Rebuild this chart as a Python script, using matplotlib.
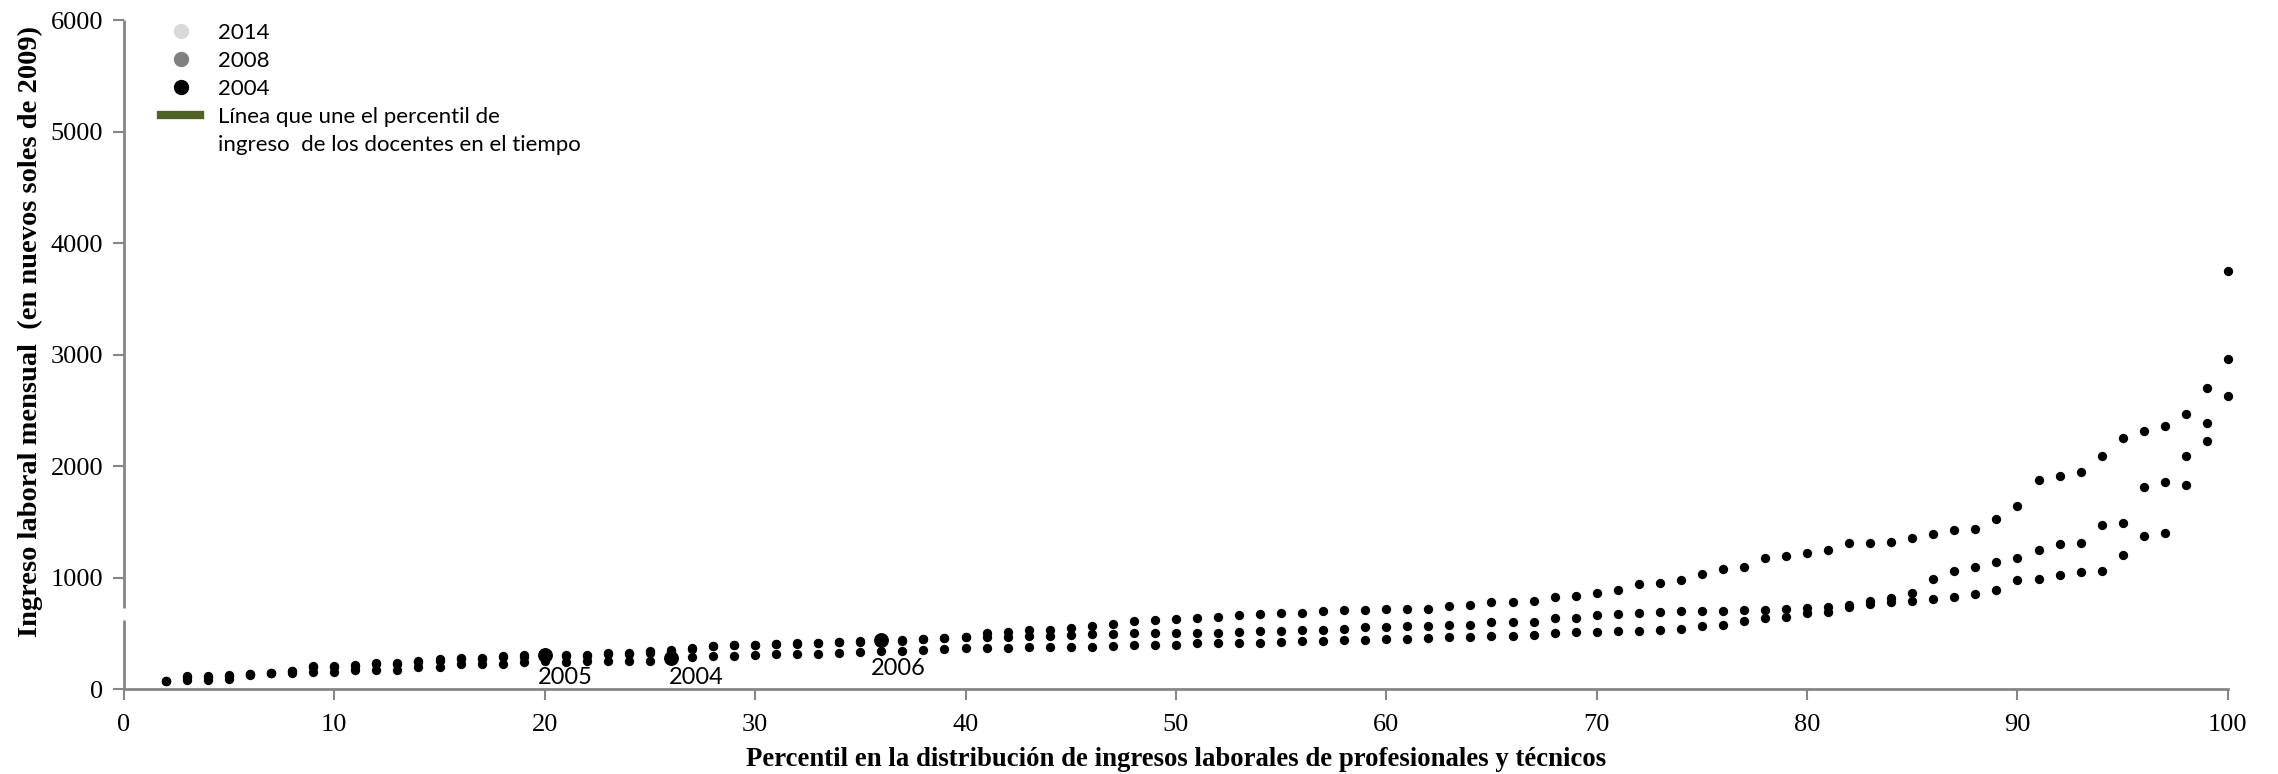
import matplotlib
matplotlib.use("Agg")
import matplotlib.pyplot as plt
from matplotlib.lines import Line2D

percentiles = list(range(2, 101))

ingreso_alto = [72, 115, 120, 126, 132, 146, 165, 209, 206, 215, 230, 230, 250, 270,
                281, 281, 300, 302, 300, 305, 305, 320, 325, 340, 350, 365, 389, 395,
                395, 403, 410, 415, 421, 427, 440, 436, 448, 460, 469, 499, 514, 532,
                529, 544, 565, 586, 610, 616, 628, 640, 643, 661, 673, 679, 685, 697,
                706, 709, 715, 715, 721, 742, 751, 784, 783, 792, 822, 830, 864, 891,
                942, 954, 978, 1034, 1073, 1094, 1178, 1196, 1220, 1247, 1307, 1313,
                1319, 1354, 1393, 1429, 1432, 1522, 1642, 1878, 1908, 1949, 2090, 2249,
                2311, 2359, 2464, 2700, 3750]

ingreso_medio = [72, 110, 112, 118, 132, 146, 160, 200, 200, 205, 220, 222, 240, 255,
                 270, 272, 285, 290, 290, 295, 298, 310, 315, 325, 340, 360, 385, 392,
                 393, 400, 406, 412, 418, 424, 432, 434, 445, 456, 466, 469, 469, 475,
                 475, 484, 490, 490, 499, 502, 502, 502, 505, 514, 517, 523, 529, 529,
                 541, 553, 556, 565, 565, 574, 577, 601, 601, 604, 634, 634, 661, 673,
                 679, 694, 697, 697, 700, 706, 712, 718, 727, 739, 751, 789, 816, 864,
                 984, 1061, 1097, 1142, 1175, 1247, 1298, 1313, 1468, 1489, 1812, 1860,
                 2087, 2383, 2960]

ingreso_bajo = [68, 78, 80, 90, 128, 142, 140, 150, 157, 170, 170, 170, 194, 194,
                221, 227, 227, 242, 250, 245, 250, 250, 250, 252, 290, 290, 296, 296,
                305, 310, 313, 317, 320, 332, 344, 344, 350, 356, 368, 371, 368, 374,
                377, 377, 380, 386, 392, 395, 398, 410, 410, 410, 416, 419, 428, 431,
                437, 443, 449, 452, 461, 464, 464, 473, 478, 484, 502, 508, 511, 520,
                520, 529, 541, 568, 571, 607, 634, 649, 685, 694, 736, 766, 780, 792,
                810, 822, 849, 891, 975, 987, 1020, 1049, 1061, 1199, 1372, 1402, 1830,
                2227, 2631]

# percentil de los docentes
docentes_anio = ["2005", "2004", "2006"]
docentes_pct = [20, 26, 36]
docentes_ing = [305, 275, 440]
# donde va cada etiqueta, en puntos respecto del punto
offsets_etiqueta = [(15, -16), (18, -14), (12, -20.5)]

serif = "Liberation Serif"
sans = "Lato"

fig = plt.figure(figsize=(22.78, 7.74), dpi=100)
ax = fig.add_axes([0.0544, 0.1098, 0.9236, 0.8643])

for serie in (ingreso_alto, ingreso_medio, ingreso_bajo):
    ax.scatter(percentiles, serie, s=45, color="black", linewidths=0, clip_on=False, zorder=3)

ax.scatter(docentes_pct, docentes_ing, s=115, color="black", linewidths=0, clip_on=False, zorder=4)
for anio, p, v, off in zip(docentes_anio, docentes_pct, docentes_ing, offsets_etiqueta):
    ax.annotate(anio, (p, v), xytext=off, textcoords="offset points",
                ha="center", va="center", fontsize=17, family=sans)

ax.set_xlim(0, 100)
ax.set_ylim(0, 6000)
ax.set_xticks(range(0, 101, 10))
ax.set_yticks(range(0, 6001, 1000))

gris = "#868686"
for s in ("top", "right", "left"):
    ax.spines[s].set_visible(False)
ax.spines["bottom"].set_color(gris)
ax.spines["bottom"].set_linewidth(2)
# eje y cortado
ax.vlines(0, 0, 620, color=gris, linewidth=2, clip_on=False)
ax.vlines(0, 725, 6000, color=gris, linewidth=2, clip_on=False)
ax.tick_params(axis="both", direction="out", length=8, width=1.5, color=gris,
               labelsize=19, labelcolor="black")
ax.tick_params(axis="x", pad=10)
ax.tick_params(axis="y", pad=7)
for lab in ax.get_xticklabels() + ax.get_yticklabels():
    lab.set_family(serif)

ax.set_xlabel("Percentil en la distribución de ingresos laborales de profesionales y técnicos",
              family=serif, fontweight="bold", fontsize=19.3, labelpad=8)
ax.set_ylabel("Ingreso laboral mensual  (en nuevos soles de 2009)",
              family=serif, fontweight="bold", fontsize=20.5)
ax.yaxis.set_label_coords(-0.0386, 0.535)

handles = [
    Line2D([], [], marker="o", linestyle="", color="#d9d9d9", markersize=10),
    Line2D([], [], marker="o", linestyle="", color="#808080", markersize=10),
    Line2D([], [], marker="o", linestyle="", color="black", markersize=10),
    Line2D([], [], color="#4f6228", linewidth=6),
    Line2D([], [], linestyle="", marker=""),
]
labels = ["2014", "2008", "2004", "Línea que une el percentil de",
          "ingreso  de los docentes en el tiempo"]
ax.legend(handles, labels, loc="upper left", bbox_to_anchor=(0.0176, 0.9958),
          frameon=False, prop={"family": sans, "size": 16}, handlelength=1.76,
          handletextpad=0.81, labelspacing=0.36, borderpad=0, borderaxespad=0)

fig.savefig("out.png", dpi=100)
